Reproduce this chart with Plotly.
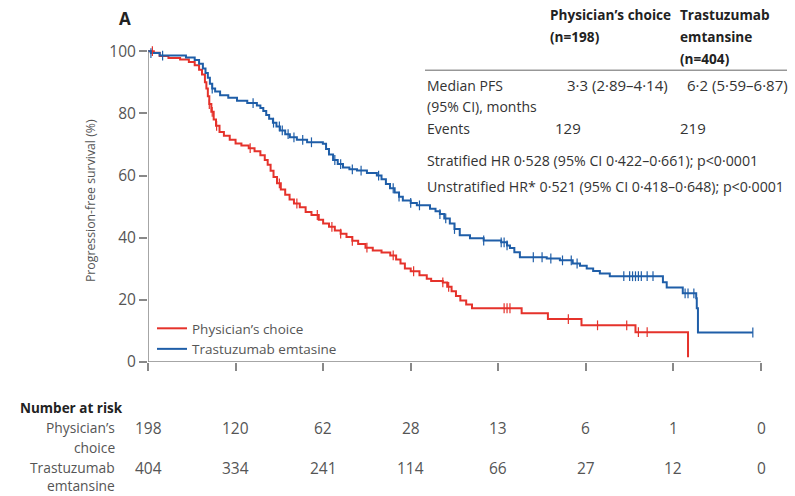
import plotly.graph_objects as go

# ---------------- data ----------------
pc_time = [0, 0.2, 0.4, 0.7, 1.1, 1.4, 1.6, 1.75, 1.85, 1.95, 2.0, 2.05, 2.1, 2.17, 2.25, 2.33, 2.45,
           2.6, 2.8, 3.0, 3.2, 3.45, 3.65, 3.85, 4.0, 4.1, 4.2, 4.3, 4.42, 4.55, 4.7, 4.85, 5.0, 5.2,
           5.4, 5.6, 5.85, 6.0, 6.2, 6.4, 6.6, 6.8, 7.0, 7.2, 7.45, 7.7, 8.0, 8.3, 8.5, 8.65, 8.8,
           9.0, 9.3, 9.55, 9.7, 10.1, 10.25, 10.4, 10.55, 10.7, 10.9, 11.1, 12.8, 13.7, 14.85, 16.7, 18.5]
pc_surv = [100, 99.5, 98.5, 97.8, 97.3, 96.5, 95.5, 94, 92.5, 90, 88, 85.5, 83, 80.5, 78, 76, 74,
           72.8, 71.5, 70.3, 69.7, 68.8, 67.8, 66.5, 65, 63.5, 61.5, 59.5, 57.5, 55.5, 53.8, 52.3, 51, 49.8,
           48.3, 47.3, 45.8, 44.6, 43.5, 42.3, 41.3, 40.2, 39, 38, 36.8, 35.9, 35.2, 34.3, 33, 31.7, 30.1,
           29.2, 27.9, 26.8, 26.1, 25.6, 24.2, 22.8, 21.2, 19.8, 18.5, 17.3, 15.7, 13.8, 11.8, 9.6, 1.5]
pc_censor = [0.15, 2.1, 2.2, 2.35, 3.5, 4.5, 5.1, 5.8, 6.3, 6.6, 7.0, 7.5, 8.4, 9.1, 10.1, 10.3,
             12.2, 12.3, 12.4, 14.4, 15.4, 16.4, 16.8, 17.1]

te_time = [0, 0.1, 0.4, 1.0, 1.3, 1.6, 1.75, 1.88, 1.97, 2.05, 2.12, 2.2, 2.3, 2.47, 2.75, 3.05, 3.4,
           3.73, 3.85, 3.95, 4.05, 4.15, 4.28, 4.4, 4.52, 4.7, 4.86, 5.1, 5.45, 5.99, 6.1, 6.2, 6.34,
           6.5, 6.68, 6.9, 7.16, 7.5, 7.84, 8.0, 8.15, 8.29, 8.45, 8.6, 8.73, 9.0, 9.21, 9.66, 9.85,
           10.0, 10.15, 10.34, 10.5, 10.68, 11.03, 11.5, 12.1, 12.3, 12.4, 12.55, 12.74, 13.66, 14.11,
           14.55, 14.8, 15.03, 15.25, 15.48, 15.82, 17.64, 17.77, 18.32, 18.78, 18.8, 18.84, 20.72]
te_surv = [100, 99.4, 98.6, 98.6, 98.0, 97.2, 96, 94.4, 93, 91.5, 89.5, 88, 87, 85.8, 85, 84.1, 83.3,
           82.5, 81.7, 80.8, 79.5, 78.3, 77, 75.8, 74.5, 73.3, 72.3, 71.5, 70.7, 70.2, 68.5, 66.8, 65,
           63.7, 62.6, 62, 61.6, 60.8, 60, 58.8, 57.3, 55.9, 54.5, 53.2, 52, 51.2, 50.4, 49.3, 48.5,
           47.6, 46.2, 44.6, 42.8, 40.8, 39.8, 39.1, 38.5, 37.5, 36.7, 35.3, 33.7, 33.3, 32.7,
           31.7, 31, 30.1, 29.3, 28.5, 27.6, 25.7, 24.0, 22.1, 20.5, 17.3, 9.5, 9.5]
te_censor = [0.1, 0.5, 2.2, 3.6, 4.3, 4.5, 4.6, 4.8, 5.0, 5.3, 5.6, 6.4, 6.6, 7.0, 7.3, 7.9, 8.4,
             8.6, 9.0, 9.3, 10.0, 10.2, 10.5, 11.5, 12.1, 12.2, 12.3, 13.2, 13.5, 13.8, 14.2, 14.5,
             14.7, 16.3, 16.5, 16.6, 16.7, 16.8, 16.9, 17.1, 17.3, 18.4, 18.5, 18.7, 20.72]

x_ticks = [0, 3, 6, 9, 12, 15, 18, 21]
y_ticks = [0, 20, 40, 60, 80, 100]
risk_pc = [198, 120, 62, 28, 13, 6, 1, 0]
risk_te = [404, 334, 241, 114, 66, 27, 12, 0]

RED = "#e5322b"
BLUE = "#1f5ea8"
FONT = "Open Sans"
GREY = "#555555"
DARK = "#333333"

W, H = 795, 496
L, R, T, B = 148, 34, 44.8, 134
PW, PH = W - L - R, H - T - B


def px_x(px):
    return (px - L) / PW


def px_y(py):
    return (H - B - py) / PH


def step_at(times, surv, t):
    val = surv[0]
    for ti, si in zip(times, surv):
        if ti <= t:
            val = si
        else:
            break
    return val


fig = go.Figure()
fig.add_trace(go.Scatter(x=pc_time, y=pc_surv, mode="lines", line=dict(color=RED, width=2, shape="hv"),
                         name="Physician’s choice", legendgroup="pc"))
fig.add_trace(go.Scatter(x=te_time, y=te_surv, mode="lines", line=dict(color=BLUE, width=2, shape="hv"),
                         name="Trastuzumab emtasine", legendgroup="te"))
fig.add_trace(go.Scatter(x=pc_censor, y=[step_at(pc_time, pc_surv, t) for t in pc_censor], mode="markers",
                         marker=dict(symbol="line-ns", size=7, line=dict(color=RED, width=1.2)),
                         showlegend=False, legendgroup="pc", hoverinfo="skip"))
fig.add_trace(go.Scatter(x=te_censor, y=[step_at(te_time, te_surv, t) for t in te_censor], mode="markers",
                         marker=dict(symbol="line-ns", size=7, line=dict(color=BLUE, width=1.2)),
                         showlegend=False, legendgroup="te", hoverinfo="skip"))

ann = []


def txt(text, px, py, anchor="left", size=14, color=DARK, bold=False, angle=0):
    ann.append(dict(text=f"<b>{text}</b>" if bold else text, x=px_x(px), y=px_y(py), xref="paper", yref="paper",
                    xanchor=anchor, yanchor="middle", showarrow=False, textangle=angle,
                    font=dict(family=FONT, size=size, color=color)))


txt("A", 117, 18, size=17, color="#222222", bold=True)
txt("Physician’s choice", 548, 14, bold=True, color="#222222", size=13.6)
txt("(n=198)", 548, 36, bold=True, color="#222222", size=13.6)
txt("Trastuzumab", 678, 14, bold=True, color="#222222", size=13.6)
txt("emtansine", 678, 36, bold=True, color="#222222", size=13.6)
txt("(n=404)", 678, 58, bold=True, color="#222222", size=13.6)
txt("Median PFS", 425, 85)
txt("(95% CI), months", 425, 106)
txt("Events", 425, 128)
txt("3·3 (2·89–4·14)", 670, 85, anchor="right", size=15)
txt("6·2 (5·59–6·87)", 790, 85, anchor="right", size=15)
txt("129", 553, 128, size=15)
txt("219", 678, 128, size=15)
txt("Stratified HR 0·528 (95% CI 0·422–0·661); p<0·0001", 425, 160, size=14.2)
txt("Unstratified HR* 0·521 (95% CI 0·418–0·648); p<0·0001", 425, 186, size=14.2)
txt("Progression-free survival (%)", 90, 201, anchor="center", color=GREY, angle=-90, size=12.3)

txt("Number at risk", 18, 408, bold=True, color="#222222", size=13.5)
txt("Physician’s", 117, 428, anchor="right", color=GREY, size=13.8)
txt("choice", 117, 448, anchor="right", color=GREY, size=13.8)
txt("Trastuzumab", 117, 468, anchor="right", color=GREY, size=13.8)
txt("emtansine", 117, 486, anchor="right", color=GREY, size=13.8)
for xt, a, b in zip(x_ticks, risk_pc, risk_te):
    for val, py in ((a, 428), (b, 468)):
        ann.append(dict(text=str(val), x=xt, y=px_y(py), xref="x", yref="paper", xanchor="center",
                        yanchor="middle", showarrow=False, font=dict(family=FONT, size=15.5, color=GREY)))

shapes = [
    dict(type="line", xref="paper", yref="paper", x0=px_x(425), x1=px_x(787), y0=px_y(70), y1=px_y(70),
         line=dict(color="#666666", width=1)),
    dict(type="line", xref="x", yref="y", x0=0, x1=0, y0=0, y1=100, line=dict(color="#888888", width=1.5)),
    dict(type="line", xref="x", yref="y", x0=0, x1=21, y0=0, y1=0, line=dict(color="#888888", width=1.5)),
]

fig.update_layout(
    width=W, height=H, margin=dict(l=L, r=R, t=T, b=B), plot_bgcolor="white", paper_bgcolor="white",
    font=dict(family=FONT, color=GREY),
    xaxis=dict(range=[0, 21], tickvals=x_ticks, ticktext=[""] * len(x_ticks), ticks="outside", ticklen=8,
               tickcolor="#888888", tickwidth=1.5, showgrid=False, zeroline=False, showline=False),
    yaxis=dict(range=[0, 102], tickvals=y_ticks, ticks="outside", ticklen=8, tickcolor="#888888", tickwidth=1.5,
               showgrid=False, zeroline=False, showline=False, tickfont=dict(size=15.5, color=GREY, family=FONT)),
    legend=dict(x=px_x(152), y=px_y(313), xanchor="left", yanchor="top", bgcolor="rgba(0,0,0,0)",
                font=dict(size=13.5, color=GREY, family=FONT), tracegroupgap=0),
    annotations=ann, shapes=shapes, showlegend=True,
)

fig.write_html("out.html", config={"displayModeBar": False},
               post_script="document.body.style.margin='0';document.body.style.overflow='hidden';")
